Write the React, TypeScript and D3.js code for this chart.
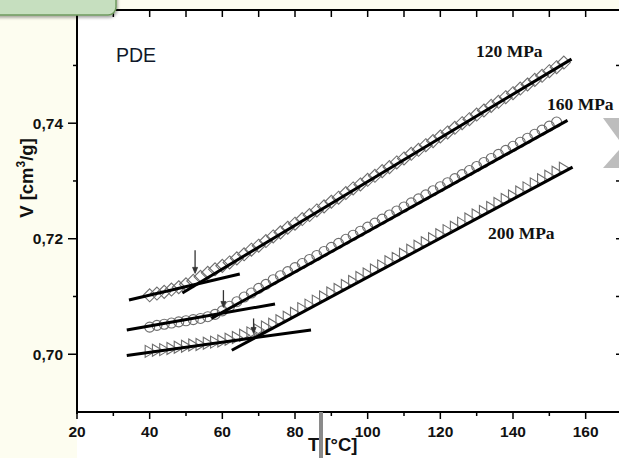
import React from "react";
import * as d3 from "d3";

// ---- data ----
const T120 = [40,42,44,46,48,50,52,54,56,58,60,62,64,66,68,70,72,74,76,78,80,82,84,86,88,90,92,94,96,98,100,102,104,106,108,110,112,114,116,118,120,122,124,126,128,130,132,134,136,138,140,142,144,146,148,150,152,154];
const V120 = [0.7102,0.7105,0.7108,0.7112,0.7116,0.7121,0.7127,0.7134,0.7141,0.7147,0.7153,0.7159,0.7166,0.7173,0.7181,0.7188,0.7196,0.7204,0.7211,0.7219,0.7226,0.7234,0.7241,0.7249,0.7256,0.7264,0.7271,0.7279,0.7287,0.7294,0.7302,0.7309,0.7317,0.7324,0.7332,0.7339,0.7347,0.7354,0.7362,0.7369,0.7377,0.7384,0.7392,0.7400,0.7407,0.7415,0.7422,0.7430,0.7437,0.7445,0.7452,0.7460,0.7467,0.7475,0.7482,0.7490,0.7497,0.7505];

const T160 = [40,42,44,46,48,50,52,54,56,58,60,62,64,66,68,70,72,74,76,78,80,82,84,86,88,90,92,94,96,98,100,102,104,106,108,110,112,114,116,118,120,122,124,126,128,130,132,134,136,138,140,142,144,146,148,150,152];
const V160 = [0.7047,0.7050,0.7052,0.7054,0.7056,0.7058,0.7060,0.7062,0.7065,0.7069,0.7075,0.7083,0.7091,0.7099,0.7106,0.7114,0.7121,0.7129,0.7136,0.7143,0.7150,0.7157,0.7164,0.7171,0.7178,0.7185,0.7192,0.7199,0.7206,0.7213,0.7220,0.7227,0.7234,0.7241,0.7248,0.7255,0.7262,0.7269,0.7276,0.7283,0.7290,0.7297,0.7304,0.7311,0.7318,0.7325,0.7332,0.7339,0.7346,0.7353,0.7360,0.7367,0.7374,0.7381,0.7388,0.7395,0.7402];

const T200 = [40,42,44,46,48,50,52,54,56,58,60,62,64,66,68,70,72,74,76,78,80,82,84,86,88,90,92,94,96,98,100,102,104,106,108,110,112,114,116,118,120,122,124,126,128,130,132,134,136,138,140,142,144,146,148,150,152,154];
const V200 = [0.7005,0.7007,0.7008,0.7010,0.7012,0.7014,0.7016,0.7017,0.7019,0.7021,0.7023,0.7026,0.7029,0.7033,0.7037,0.7042,0.7047,0.7052,0.7058,0.7064,0.7071,0.7079,0.7085,0.7092,0.7099,0.7106,0.7112,0.7119,0.7126,0.7133,0.7139,0.7146,0.7153,0.7160,0.7166,0.7173,0.7180,0.7187,0.7193,0.7200,0.7207,0.7214,0.7220,0.7227,0.7234,0.7241,0.7247,0.7254,0.7261,0.7268,0.7274,0.7281,0.7288,0.7295,0.7302,0.7308,0.7315,0.7322];

// fitted straight lines [T, V]
const fit120Low: [number, number][] = [[34.3, 0.7094], [64.8, 0.7139]];
const fit120High: [number, number][] = [[49.0, 0.7106], [156.1, 0.7511]];
const fit160Low: [number, number][] = [[33.7, 0.7042], [74.5, 0.7087]];
const fit160High: [number, number][] = [[57.0, 0.7062], [155.0, 0.7405]];
const fit200Low: [number, number][] = [[33.7, 0.6998], [84.4, 0.7042]];
const fit200High: [number, number][] = [[62.6, 0.7007], [156.4, 0.7324]];

// transition arrows
const arrowT = [52.5, 60.3, 68.6];
const arrowTop = [0.7180, 0.7111, 0.7062];
const arrowTip = [0.7140, 0.7081, 0.7036];

const xMajorTicks = [20, 40, 60, 80, 100, 120, 140, 160];
const xMinorTicks = [30, 50, 70, 90, 110, 130, 150];
const xAllTicks = [30, 40, 50, 60, 70, 80, 90, 100, 110, 120, 130, 140, 150, 160];
const yMajorTicks = [0.70, 0.72, 0.74];
const yMinorTicks = [0.71, 0.73, 0.75];
const yRightTicks = [0.70, 0.71, 0.72, 0.73, 0.74, 0.75];
const yTickLabels = ["0,70", "0,72", "0,74"];

const W = 619, H = 458;

export default function App() {
  const x = d3.scaleLinear().domain([20, 170]).range([77, 622]);
  const y = d3.scaleLinear().domain([0.69, 0.7596]).range([412, 10]);
  const line = d3.line<[number, number]>().x(d => x(d[0])).y(d => y(d[1]));

  const diamond = (t: number, v: number) => {
    const cx = x(t), cy = y(v), r = 6.5;
    return `M${cx},${cy - r}L${cx + r},${cy}L${cx},${cy + r}L${cx - r},${cy}Z`;
  };
  const tri = (t: number, v: number) => {
    const cx = x(t), cy = y(v);
    return `M${cx - 4.5},${cy - 6}L${cx + 5.5},${cy}L${cx - 4.5},${cy + 6}Z`;
  };

  const markerStroke = "#6e6e6e";
  const fits = [fit120Low, fit120High, fit160Low, fit160High, fit200Low, fit200High];

  return (
    <svg width={W} height={H} style={{ position: "absolute", left: 0, top: 0 }}
      fontFamily="'Liberation Sans', Arial, sans-serif">
      <defs>
        <filter id="sh" x="-20%" y="-50%" width="140%" height="200%">
          <feDropShadow dx="1" dy="2" stdDeviation="1.5" floodColor="#000" floodOpacity="0.35" />
        </filter>
      </defs>
      <rect x={0} y={0} width={W} height={H} fill="#ffffff" />
      <rect x={0} y={0} width={77} height={H} fill="#fdfdf0" />
      <rect x={0} y={0} width={W} height={10} fill="#fdfdf0" />

      {/* markers */}
      <g fill="none" stroke={markerStroke} strokeWidth={1.1}>
        {T120.map((t, i) => <path key={"d" + i} d={diamond(t, V120[i])} />)}
        {T160.map((t, i) => <circle key={"c" + i} cx={x(t)} cy={y(V160[i])} r={5} />)}
        {T200.map((t, i) => <path key={"t" + i} d={tri(t, V200[i])} />)}
      </g>

      {/* fit lines */}
      <g fill="none" stroke="#000" strokeWidth={3}>
        {fits.map((f, i) => <path key={"f" + i} d={line(f) || ""} />)}
      </g>

      {/* arrows */}
      <g stroke="#333" strokeWidth={1.3} fill="#333">
        {arrowT.map((t, i) => {
          const ax = x(t), y0 = y(arrowTop[i]), y1 = y(arrowTip[i]);
          return (
            <g key={"a" + i}>
              <line x1={ax} y1={y0} x2={ax} y2={y1 - 4} />
              <path d={`M${ax - 2.5},${y1 - 6}L${ax + 2.5},${y1 - 6}L${ax},${y1}Z`} strokeWidth={0.8} />
            </g>
          );
        })}
      </g>

      {/* axes frame */}
      <g stroke="#000" strokeWidth={2} fill="none">
        <line x1={77} y1={10} x2={77} y2={414} />
        <line x1={76} y1={412} x2={622} y2={412} />
        <line x1={77} y1={10} x2={622} y2={10} />
        <line x1={622} y1={10} x2={622} y2={412} />
      </g>
      <g stroke="#000" strokeWidth={1.5}>
        {xMajorTicks.map(t => <line key={"xb" + t} x1={x(t)} x2={x(t)} y1={412} y2={419} />)}
        {xMinorTicks.map(t => <line key={"xm" + t} x1={x(t)} x2={x(t)} y1={412} y2={416} />)}
        {xAllTicks.map(t => <line key={"xt" + t} x1={x(t)} x2={x(t)} y1={10} y2={17} />)}
        {yMajorTicks.map(v => <line key={"yl" + v} x1={68} x2={77} y1={y(v)} y2={y(v)} />)}
        {yMinorTicks.map(v => <line key={"ym" + v} x1={73} x2={77} y1={y(v)} y2={y(v)} />)}
        {yRightTicks.map(v => <line key={"yr" + v} x1={616} x2={622} y1={y(v)} y2={y(v)} />)}
      </g>

      {/* tick labels */}
      <g fontWeight="bold" fontSize={15.5} fill="#111">
        {xMajorTicks.map(t => (
          <text key={"xl" + t} x={x(t)} y={437} textAnchor="middle">{t}</text>
        ))}
        {yMajorTicks.map((v, i) => (
          <text key={"ylb" + v} x={63} y={y(v) + 5.5} textAnchor="end">{yTickLabels[i]}</text>
        ))}
      </g>

      {/* axis titles */}
      <text transform="translate(33,178) rotate(-90)" textAnchor="middle" fontWeight="bold" fontSize={18.5} fill="#111">
        V [cm<tspan dy={-8} fontSize={12}>3</tspan><tspan dy={8}>/g]</tspan>
      </text>
      <text x={308} y={451} fontWeight="bold" fontSize={18.5} fill="#111">T [°C]</text>
      <rect x={319} y={412} width={4} height={46} fill="#8a8a8a" />

      {/* annotations */}
      <text x={116} y={62} fontSize={19.5} fill="#10182a">PDE</text>
      <g fontFamily="'Liberation Serif', 'Times New Roman', serif" fontWeight="bold" fontSize={17.5} fill="#111">
        <text x={476} y={57}>120 MPa</text>
        <text x={547} y={110}>160 MPa</text>
        <text x={488} y={239}>200 MPa</text>
      </g>

      {/* slide decorations */}
      <path d="M603,118L619,118L619,140Z" fill="#bdbdbd" />
      <path d="M603,168L619,168L619,150Z" fill="#bdbdbd" />
      <rect x={-12} y={-12} width={128} height={27} rx={8} ry={8} fill="#c6dfbf" stroke="#6f9a5f" strokeWidth={1.5} filter="url(#sh)" />
    </svg>
  );
}
